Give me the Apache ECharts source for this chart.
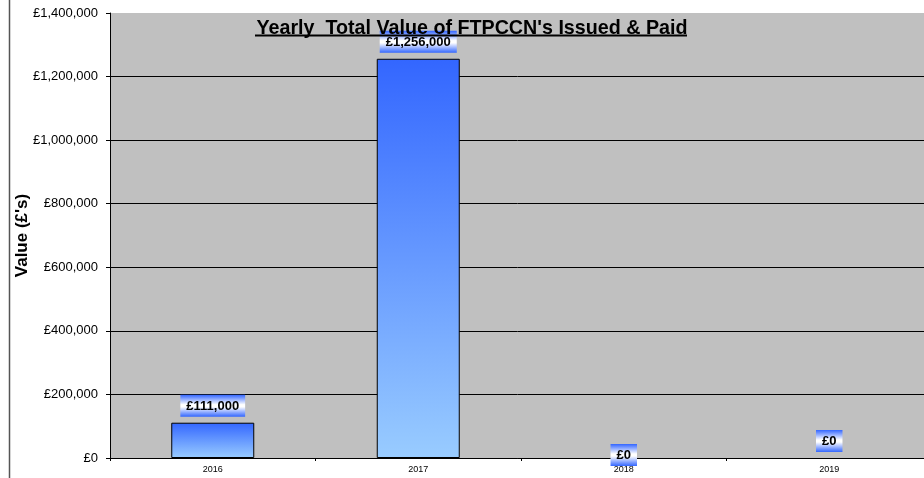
<!DOCTYPE html>
<html><head><meta charset="utf-8">
<script src="https://cdn.jsdelivr.net/npm/echarts@6/dist/echarts.min.js"></script>
<style>html,body{margin:0;padding:0;background:#fff}#c{width:924px;height:478px}</style>
</head><body><div id="c"></div>
<script>
const categories = ['2016', '2017', '2018', '2019'];
const values = [111000, 1256000, 0, 0];
const yTicks = [0, 200000, 400000, 600000, 800000, 1000000, 1200000, 1400000];
const titleText = "Yearly  Total Value of FTPCCN's Issued & Paid";

function fmt(v) { return '£' + v.toLocaleString('en-GB'); }

const chart = echarts.init(document.getElementById('c'));
const labelBg = new echarts.graphic.LinearGradient(0, 0, 0, 1, [
  { offset: 0, color: '#3366ff' }, { offset: 0.45, color: '#ffffff' },
  { offset: 0.55, color: '#ffffff' }, { offset: 1, color: '#3366ff' }
]);
const barFill = new echarts.graphic.LinearGradient(0, 0, 0, 1, [
  { offset: 0, color: '#3366ff' }, { offset: 1, color: '#99ccff' }
]);
const gridColors = yTicks.map((t, i) => i === yTicks.length - 1 ? '#c0c0c0' : '#000');
chart.setOption({
  animation: false,
  backgroundColor: '#ffffff',
  textStyle: { fontFamily: 'Liberation Sans, Arial, sans-serif' },
  grid: { left: 110, right: -8, top: 13, bottom: 20, show: true, backgroundColor: '#c0c0c0', borderWidth: 0,
          containLabel: false, outerBoundsMode: 'none' },
  title: {
    text: titleText, left: 467, top: 14, textAlign: 'center',
    textStyle: { fontSize: 19.7, fontWeight: 'bold', color: '#000', fontFamily: 'Liberation Sans, Arial, sans-serif' }
  },
  graphic: [
    { type: 'line', shape: { x1: 9.5, y1: 0, x2: 9.5, y2: 478 }, style: { stroke: '#555', lineWidth: 1.5 } },
    { type: 'line', z: 100, shape: { x1: 255, y1: 35.5, x2: 687, y2: 35.5 }, style: { stroke: '#000', lineWidth: 2 } }
  ],
  xAxis: {
    type: 'category', data: categories,
    axisLine: { lineStyle: { color: '#000', width: 1 } },
    axisTick: { show: true, alignWithLabel: false, length: 3, lineStyle: { color: '#000' } },
    axisLabel: { fontSize: 9, color: '#000', margin: 7 }
  },
  yAxis: {
    type: 'value', min: 0, max: 1400000, interval: 200000,
    name: "Value (£'s)", nameLocation: 'middle', nameGap: 79, nameRotate: 90, nameMoveOverlap: false,
    nameTextStyle: { fontSize: 17, fontWeight: 'bold', color: '#000' },
    axisLine: { show: true, lineStyle: { color: '#000' } },
    axisTick: { show: true, length: 4, inside: false, lineStyle: { color: '#000' } },
    axisLabel: { fontSize: 13, color: '#000', margin: 12, formatter: v => fmt(v) },
    splitLine: { lineStyle: { color: gridColors, width: 1 } }
  },
  series: [{
    type: 'bar', barWidth: 83,
    data: values.map((v, i) => ({
      value: v,
      itemStyle: v === 0 ? { borderWidth: 0, color: 'rgba(0,0,0,0)' } : undefined,
      label: i === 2 ? { offset: [0, 14] } : undefined
    })),
    itemStyle: { color: barFill, borderColor: '#000', borderWidth: 1 },
    label: {
      show: true, position: 'top', distance: 6,
      formatter: p => fmt(p.value),
      fontSize: 13, fontWeight: 'bold', color: '#000',
      backgroundColor: labelBg, padding: [5, 6, 4, 6]
    }
  }]
});
</script>
</body></html>
